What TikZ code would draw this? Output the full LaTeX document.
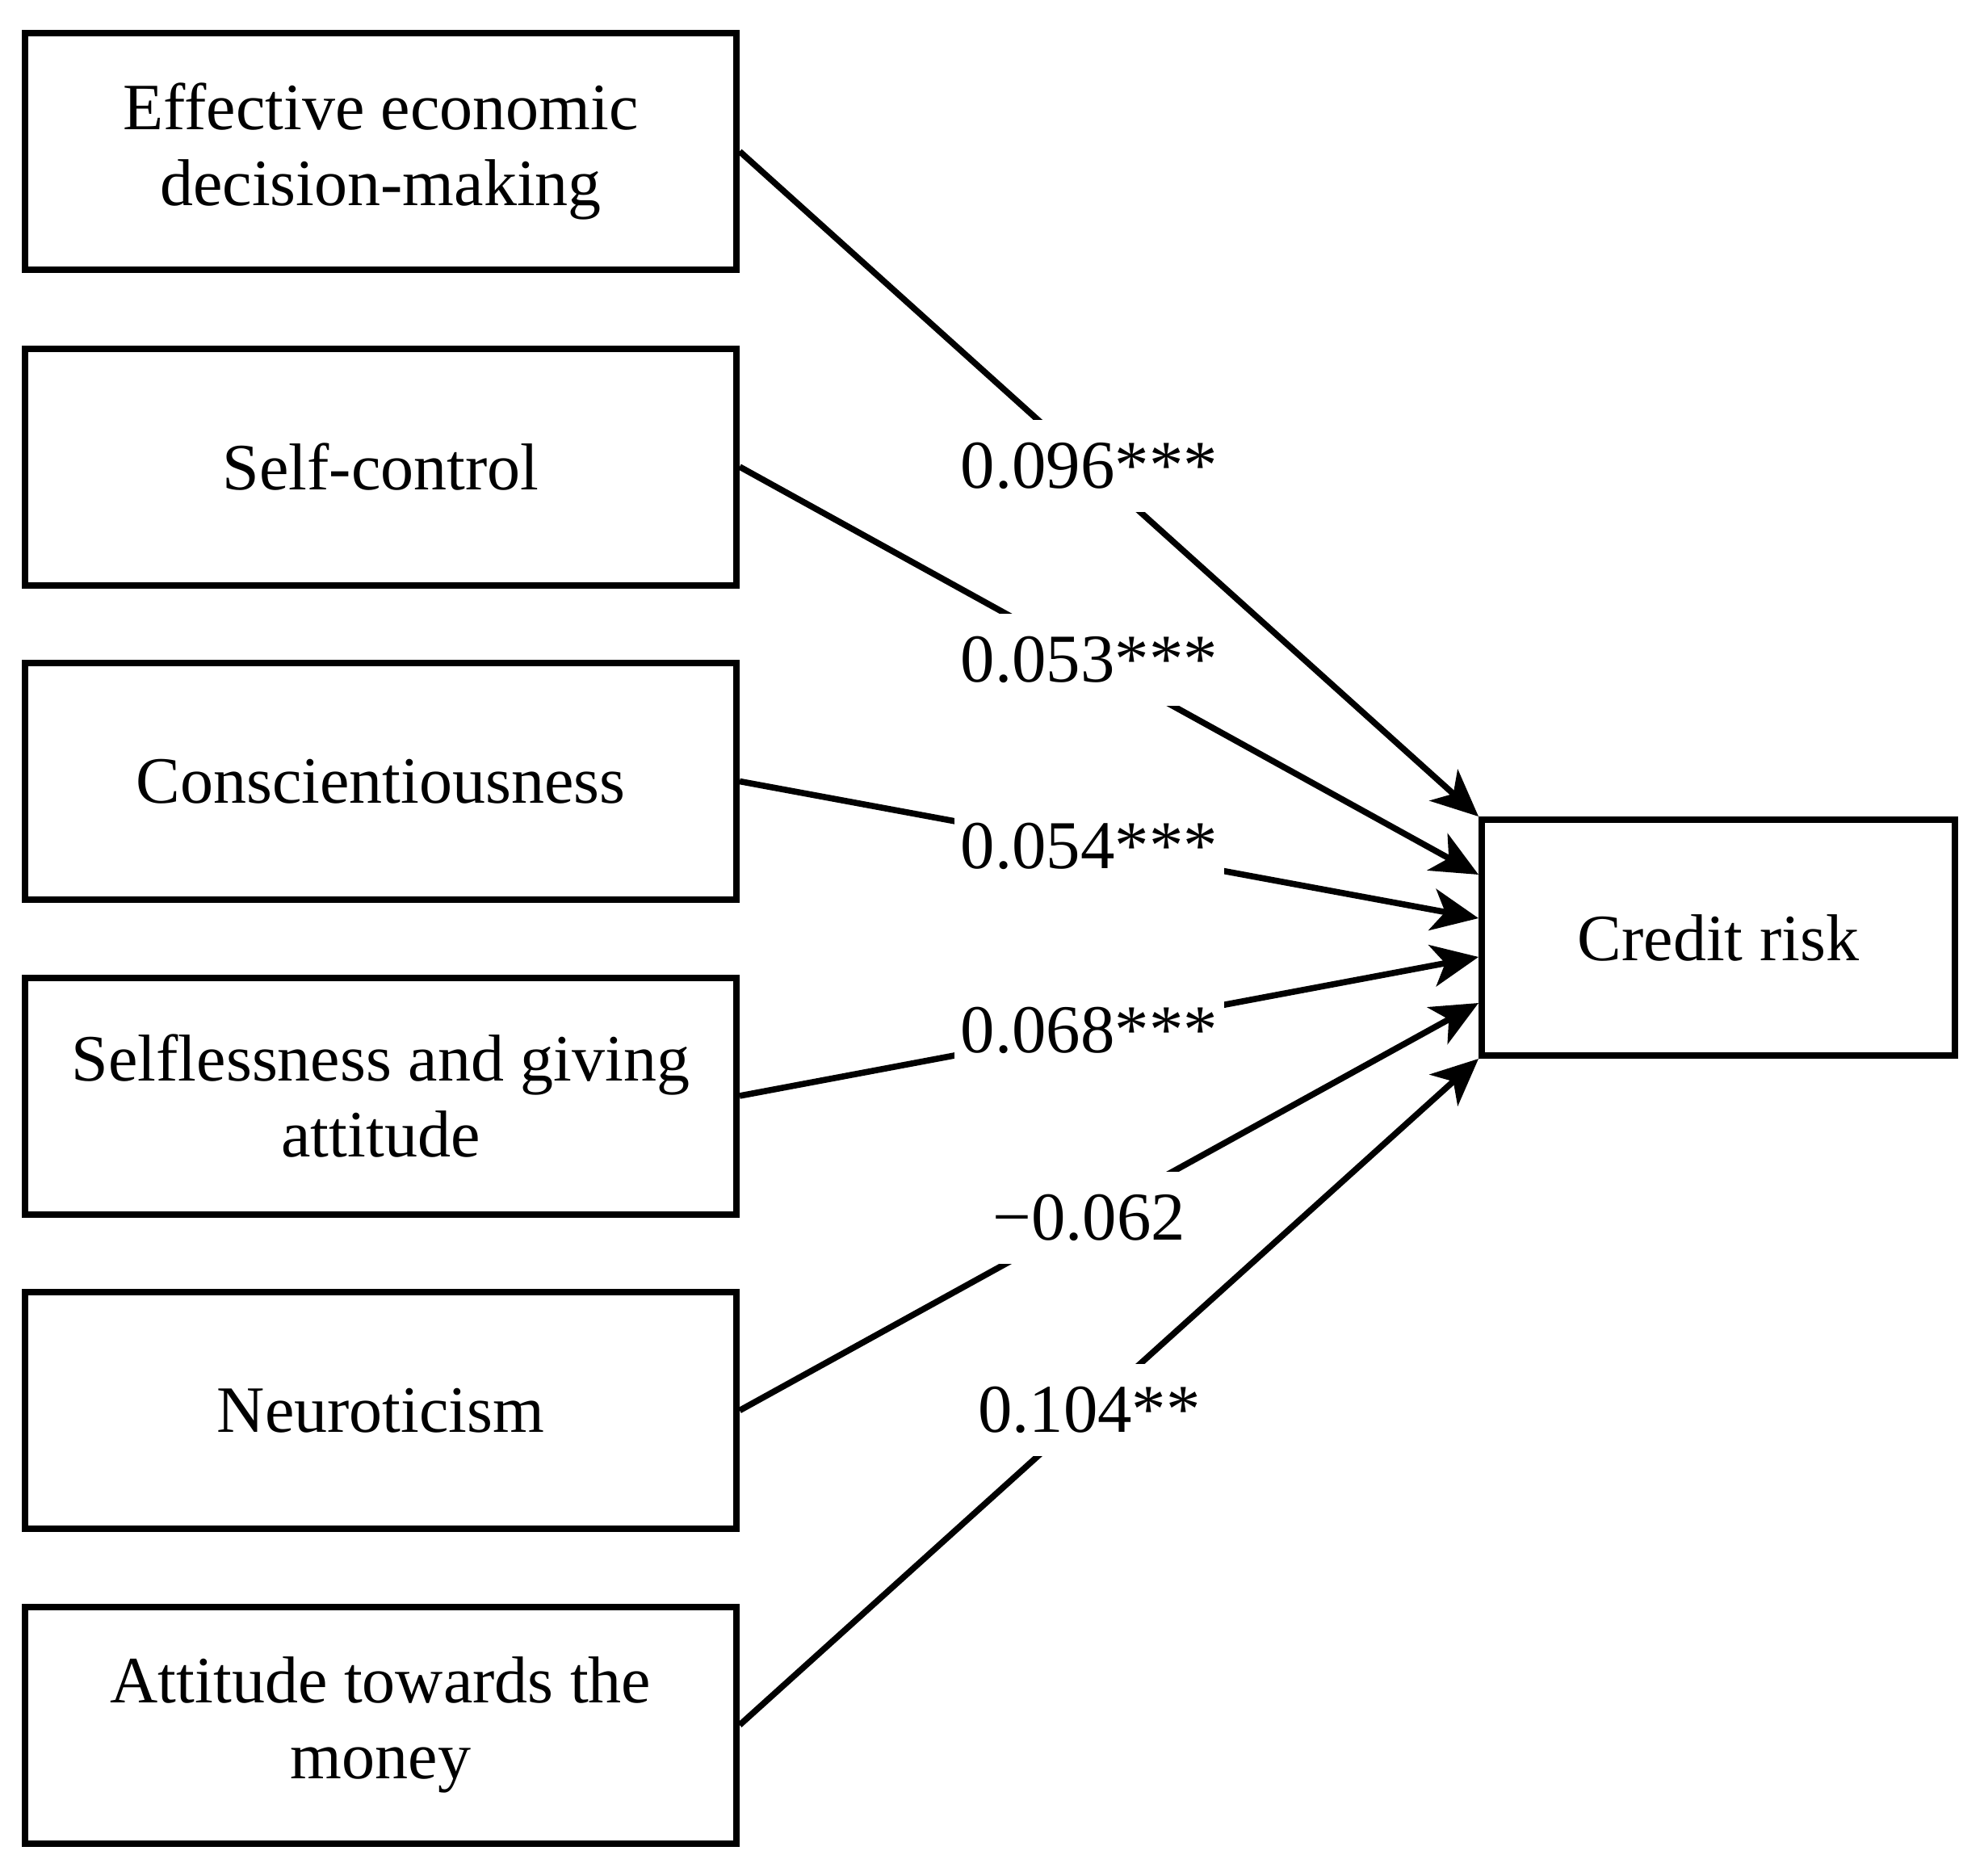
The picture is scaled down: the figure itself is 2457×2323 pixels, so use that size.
\documentclass[tikz,border=0pt]{standalone}
\usepackage{fontspec}
\setmainfont{Liberation Serif}
\usetikzlibrary{arrows.meta,calc}
\begin{document}
\begin{tikzpicture}[x=0.25pt,y=-0.25pt,
  box/.style={draw, line width=2pt, minimum width=220.25pt, minimum height=73.25pt, align=center,
    font=\fontsize{20.5}{23.5}\selectfont, inner sep=0pt},
  link/.style={line width=1.9pt, -{Stealth[length=14.5pt,width=13pt,inset=4pt]}},
  coef/.style={fill=white, inner xsep=2pt, inner ysep=7pt, font=\fontsize{21.2}{24}\selectfont, pos=0.473}]
\useasboundingbox (0,0) rectangle (2457,2323);
\node[box] (b1) at (471.5,187.5) {Effective economic\\decision-making};
\node[box] (b2) at (471.5,578) {Self-control};
\node[box] (b3) at (471.5,967.5) {Conscientiousness};
\node[box] (b4) at (471.5,1357) {Selflessness and giving\\attitude};
\node[box] (b5) at (471.5,1746.5) {Neuroticism};
\node[box] (b6) at (471.5,2136) {Attitude towards the\\money};
\node[box, minimum width=146.5pt, minimum height=73pt] (cr) at (2128,1161) {Credit risk};
\coordinate (t1) at (cr.north west);
\coordinate (t2) at ($(cr.north west)!0.24!(cr.south west)$);
\coordinate (t3) at ($(cr.north west)!0.42!(cr.south west)$);
\coordinate (t4) at ($(cr.north west)!0.58!(cr.south west)$);
\coordinate (t5) at ($(cr.north west)!0.77!(cr.south west)$);
\coordinate (t6) at (cr.south west);
\draw[link] (b1.east) -- node[coef] (l1) {0.096***} (t1);
\draw[link] (b2.east) -- node[coef] (l2) {0.053***} (t2);
\draw[link] (b3.east) -- node[coef] (l3) {0.054***} (t3);
\draw[link] (b4.east) -- node[coef] (l4) {0.068***} (t4);
\draw[link] (b5.east) -- node[coef] (l5) {−0.062} (t5);
\draw[link] (b6.east) -- node[coef] (l6) {0.104**} (t6);
\end{tikzpicture}
\end{document}
